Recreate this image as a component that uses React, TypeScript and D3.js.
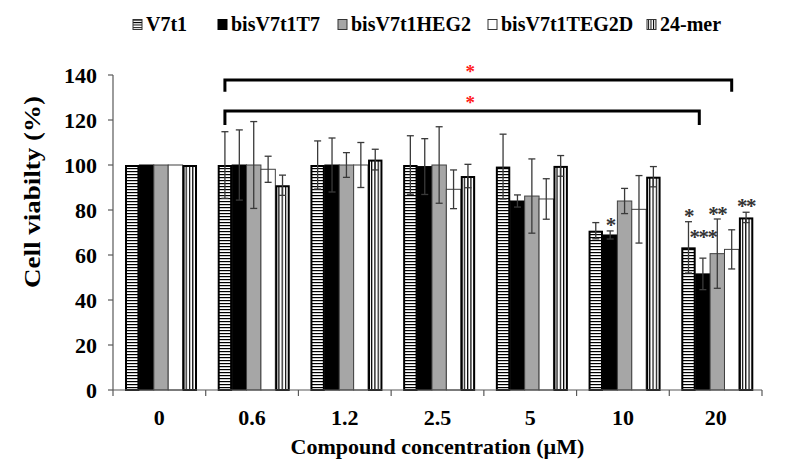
import React from "react";
import * as d3 from "d3";

const categories = ["0", "0.6", "1.2", "2.5", "5", "10", "20"];
const seriesNames = ["V7t1", "bisV7t1T7", "bisV7t1HEG2", "bisV7t1TEG2D", "24-mer"];

const v7t1 = [100, 100, 100, 100, 99.3, 70.8, 63.4];
const v7t1Err = [0, 14.8, 10.7, 13, 14.4, 3.6, 11.4];
const bisT7 = [100, 100, 100, 99.3, 84, 68.9, 51.6];
const bisT7Err = [0, 15.6, 12, 12.4, 2.7, 1.8, 7];
const bisHEG2 = [100, 100, 100, 100, 86.2, 84, 60.6];
const bisHEG2Err = [0, 19.3, 5.5, 17, 16.5, 5.6, 15.4];
const bisTEG2D = [100, 98.1, 100, 89.2, 84.9, 80.3, 62.5];
const bisTEG2DErr = [0, 5.8, 10, 8.6, 9, 15, 8.7];
const mer24 = [100, 91, 102.4, 95.1, 99.6, 94.8, 76.7];
const mer24Err = [0, 4.5, 4.6, 5.2, 4.6, 4.5, 2.3];

const yTicks = [0, 20, 40, 60, 80, 100, 120, 140];

// significance marks above bars: category, series index, label, value level (%)
const sigCats = ["10", "20", "20", "20", "20"];
const sigSeries = [1, 0, 1, 2, 4];
const sigLabels = ["*", "*", "***", "**", "**"];
const sigLevels = [74.8, 78.8, 69.2, 79.7, 83];

// brackets: from (category, bar position) to (category, bar position) at level
const bracketFromCat = ["0.6", "0.6"];
const bracketFromPos = [0.5, 0.5];
const bracketToCat = ["20", "20"];
const bracketToPos = [3.5, 1.25];
const bracketLevels = [137.8, 124];
const bracketDrop = [5.2, 6.2];

const values = [v7t1, bisT7, bisHEG2, bisTEG2D, mer24];
const errors = [v7t1Err, bisT7Err, bisHEG2Err, bisTEG2DErr, mer24Err];

const FONT = "'Liberation Serif', 'Times New Roman', serif";
const AXIS = "#595959";

export default function App() {
  const W = 802, H = 459;
  const x = d3.scaleBand<string>().domain(categories).range([113, 762]).paddingInner(0).paddingOuter(0);
  const xs = d3.scaleBand<string>().domain(seriesNames).range([12, x.bandwidth() - 8.7]);
  const y = d3.scaleLinear().domain([0, 140]).range([390, 75]);
  const bw = xs.bandwidth();

  const fills = ["url(#hstripe)", "#000", "#a6a6a6", "#fff", "url(#vstripe)"];
  const strokes = ["#000", "#000", "#404040", "#404040", "#000"];
  const strokeW = [2, 1, 1, 1, 2];

  const legendX = [133, 218, 338, 488, 647];

  const posX = (cat: string, pos: number) => (x(cat) as number) + xs.range()[0] + pos * bw;

  const brackets = bracketLevels.map((lv, i) => ({
    x1: posX(bracketFromCat[i], bracketFromPos[i]),
    x2: posX(bracketToCat[i], bracketToPos[i]),
    yv: y(lv),
    yd: y(lv - bracketDrop[i]),
  }));
  const starX = d3.mean(brackets, (b) => (b.x1 + b.x2) / 2) as number;

  return (
    <svg width={W} height={H} style={{ position: "absolute", left: 0, top: 0, background: "#fff" }} fontFamily={FONT}>
      <defs>
        <pattern id="hstripe" patternUnits="userSpaceOnUse" width={4} height={3}>
          <rect width={4} height={3} fill="#fff" />
          <rect y={0} width={4} height={1.2} fill="#000" />
        </pattern>
        <pattern id="vstripe" patternUnits="userSpaceOnUse" width={3.3} height={4}>
          <rect width={3.3} height={4} fill="#fff" />
          <rect x={0} width={1.2} height={4} fill="#000" />
        </pattern>
        <pattern id="hstripeL" patternUnits="userSpaceOnUse" width={4} height={2.4} y={0.5}>
          <rect width={4} height={2.4} fill="#fff" />
          <rect y={0} width={4} height={1} fill="#000" />
        </pattern>
        <pattern id="vstripeL" patternUnits="userSpaceOnUse" width={2.6} height={4} x={0.5}>
          <rect width={2.6} height={4} fill="#fff" />
          <rect x={0} width={1} height={4} fill="#000" />
        </pattern>
      </defs>

      {/* Legend */}
      {seriesNames.map((s, i) => (
        <g key={s}>
          <rect
            x={legendX[i]}
            y={19.5}
            width={9}
            height={10}
            fill={i === 0 ? "url(#hstripeL)" : i === 4 ? "url(#vstripeL)" : fills[i]}
            stroke={i === 1 ? "#000" : "#333"}
            strokeWidth={1}
          />
          <text x={legendX[i] + 13} y={31} fontSize={20} fontWeight="bold" fill="#000">
            {s}
          </text>
        </g>
      ))}

      {/* Bars */}
      {categories.map((c, ci) => (
        <g key={c} transform={`translate(${x(c)},0)`}>
          {seriesNames.map((s, si) => {
            const v = values[si][ci];
            const sw = strokeW[si];
            const inset = si === 0 || si === 4 ? sw / 2 : 0;
            return (
              <rect
                key={s}
                x={(xs(s) as number) + inset}
                y={y(v) + inset}
                width={bw - 2 * inset}
                height={y(0) - y(v) - inset}
                fill={fills[si]}
                stroke={strokes[si]}
                strokeWidth={sw}
              />
            );
          })}
        </g>
      ))}

      {/* Error bars */}
      {categories.map((c, ci) => (
        <g key={"e" + c} transform={`translate(${x(c)},0)`} stroke="#3a3a3a" strokeWidth={1.3}>
          {seriesNames.map((s, si) => {
            const e = errors[si][ci];
            if (!e) return null;
            const v = values[si][ci];
            const cx = (xs(s) as number) + bw / 2;
            return (
              <g key={s}>
                <line x1={cx} x2={cx} y1={y(v + e)} y2={y(v - e)} />
                <line x1={cx - 3.5} x2={cx + 3.5} y1={y(v + e)} y2={y(v + e)} />
                <line x1={cx - 3.5} x2={cx + 3.5} y1={y(v - e)} y2={y(v - e)} />
              </g>
            );
          })}
        </g>
      ))}

      {/* Significance stars on bars */}
      {sigLabels.map((lab, i) => {
        const cx = (x(sigCats[i]) as number) + (xs(seriesNames[sigSeries[i]]) as number) + bw / 2;
        return (
          <text
            key={"s" + i}
            x={cx}
            y={y(sigLevels[i]) + 10}
            textAnchor="middle"
            fontSize={21}
            fontWeight="bold"
            fill="#333"
            letterSpacing={-1.5}
          >
            {lab}
          </text>
        );
      })}

      {/* Brackets */}
      {brackets.map((b, i) => (
        <g key={"b" + i}>
          <path
            d={`M${b.x1},${b.yd}V${b.yv}H${b.x2}V${b.yd}`}
            fill="none"
            stroke="#000"
            strokeWidth={3}
          />
          <text x={starX} y={b.yv - 2} textAnchor="middle" fontSize={19} fontWeight="bold" fill="#ff1a1a">
            *
          </text>
        </g>
      ))}

      {/* Y axis */}
      <line x1={113} x2={113} y1={y(140)} y2={y(0)} stroke={AXIS} strokeWidth={1.2} />
      {yTicks.map((t) => (
        <g key={"yt" + t}>
          <line x1={108} x2={113} y1={y(t)} y2={y(t)} stroke={AXIS} strokeWidth={1.2} />
          <text x={97} y={y(t) + 7.5} textAnchor="end" fontSize={22} fontWeight="bold" fill="#000">
            {t}
          </text>
        </g>
      ))}

      {/* X axis */}
      <line x1={113} x2={762} y1={y(0)} y2={y(0)} stroke={AXIS} strokeWidth={1.2} />
      {categories.concat([""]).map((c, i) => {
        const xx = i < categories.length ? (x(c) as number) : 762;
        return <line key={"xt" + i} x1={xx} x2={xx} y1={y(0)} y2={y(0) + 6} stroke={AXIS} strokeWidth={1.2} />;
      })}
      {categories.map((c) => (
        <text
          key={"xl" + c}
          x={(x(c) as number) + x.bandwidth() / 2}
          y={424.5}
          textAnchor="middle"
          fontSize={22}
          fontWeight="bold"
          fill="#000"
        >
          {c}
        </text>
      ))}

      <text x={437.5} y={453.5} textAnchor="middle" fontSize={22} fontWeight="bold" fill="#000">
        Compound concentration (µM)
      </text>
      <text
        transform="translate(40,192) rotate(-90)"
        textAnchor="middle"
        fontSize={24}
        fontWeight="bold"
        fill="#000"
        textLength={192}
        lengthAdjust="spacingAndGlyphs"
      >
        Cell viabilty (%)
      </text>
    </svg>
  );
}
